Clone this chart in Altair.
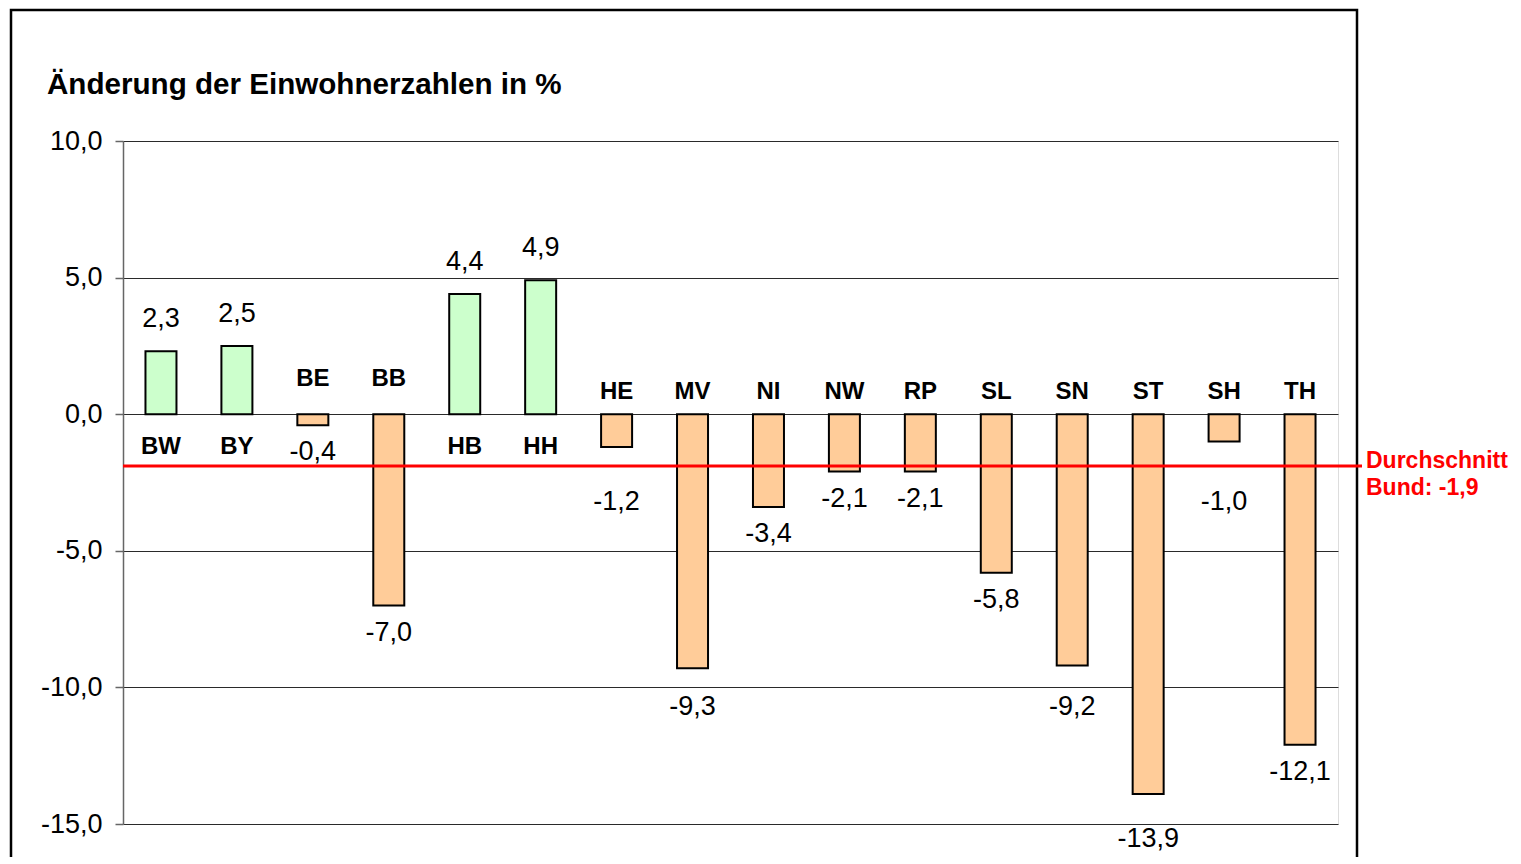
import altair as alt
import pandas as pd

# ---- data ----
laender = ["BW", "BY", "BE", "BB", "HB", "HH", "HE", "MV", "NI", "NW",
           "RP", "SL", "SN", "ST", "SH", "TH"]
werte = [2.3, 2.5, -0.4, -7.0, 4.4, 4.9, -1.2, -9.3, -3.4, -2.1,
         -2.1, -5.8, -9.2, -13.9, -1.0, -12.1]
durchschnitt = -1.9
y_ticks = [-15, -10, -5, 0, 5, 10]
y_min, y_max = -15, 10
titel = "Änderung der Einwohnerzahlen in %"
raised_names = ["BE", "BB"]  # names placed a bit higher in the original

FONT = "Liberation Sans"


def de(v):
    return f"{v:.1f}".replace(".", ",")


def value_label_y(v):
    if v >= 0:
        return v + 1.18
    lab = v - 1.0
    # keep clear of the average line
    if durchschnitt - 0.7 < lab < durchschnitt + 0.3:
        return durchschnitt - 1.3
    # keep clear of gridlines
    g = round(lab / 5) * 5
    if abs(lab - g) < 0.5:
        return g - (0.55 if g == y_min else 0.7)
    return lab


def name_y(land, v):
    if v >= 0:
        return -1.2
    return 1.3 if land in raised_names else 0.8


df = pd.DataFrame({"land": laender, "wert": werte})
df["sign"] = ["pos" if v >= 0 else "neg" for v in werte]
df["wert_txt"] = [de(v) for v in werte]
df["wert_y"] = [value_label_y(v) for v in werte]
df["name_y"] = [name_y(l, v) for l, v in zip(laender, werte)]

W, H = 1215, 683

xenc = alt.X("land:N", sort=laender,
             scale=alt.Scale(paddingInner=0, paddingOuter=0), axis=None)
yscale = alt.Scale(domain=[y_min, y_max], nice=False, zero=False)

base = alt.Chart(df)

bars = base.mark_bar(size=31, stroke="black", strokeWidth=2).encode(
    x=xenc,
    y=alt.Y("wert:Q", scale=yscale,
            axis=alt.Axis(values=y_ticks, title="", grid=True,
                          gridColor="#2a2a2a", gridWidth=1,
                          domainColor="#666666", domainWidth=1.5,
                          tickColor="#666666", tickSize=8, tickWidth=1.5,
                          labelFont=FONT, labelFontSize=27, labelColor="black",
                          labelPadding=13,
                          labelExpr="replace(replace(format(datum.value, '.1f'), '.', ','), '\u2212', '-')")),
    y2=alt.datum(0),
    color=alt.Color("sign:N", scale=alt.Scale(domain=["pos", "neg"],
                                              range=["#CCFFCC", "#FFCC99"]),
                    legend=None),
)

values_txt = base.mark_text(font=FONT, fontSize=27, color="black",
                            baseline="middle", align="center").encode(
    x=xenc,
    y=alt.Y("wert_y:Q", scale=yscale),
    text="wert_txt:N",
)

names_txt = base.mark_text(font=FONT, fontSize=24, fontWeight="bold",
                           color="black", baseline="middle",
                           align="center").encode(
    x=xenc,
    y=alt.Y("name_y:Q", scale=yscale),
    text="land:N",
)

avg_df = pd.DataFrame({"avg": [durchschnitt],
                       "txt": [f"Durchschnitt\nBund: {de(durchschnitt)}"]})

avg_rule = alt.Chart(avg_df).mark_rule(color="#FF0000", strokeWidth=3).encode(
    y=alt.Y("avg:Q", scale=yscale),
    x=alt.value(0),
    x2=alt.value(W + 24),
)

avg_txt = alt.Chart(avg_df).mark_text(
    font=FONT, fontSize=23, fontWeight="bold", color="#FF0000",
    align="left", baseline="top", lineBreak="\n", lineHeight=27, dy=-16,
).encode(
    y=alt.Y("avg:Q", scale=yscale),
    x=alt.value(W + 28),
    text="txt:N",
)

title_df = pd.DataFrame({"t": [titel]})
title_txt = alt.Chart(title_df).mark_text(
    font=FONT, fontSize=29.6, fontWeight="bold", color="black",
    align="left", baseline="alphabetic",
).encode(x=alt.value(-76), y=alt.value(-47), text="t:N")

frame = alt.Chart(pd.DataFrame({"f": [1]})).mark_rect(
    fill="transparent", stroke="black", strokeWidth=2.5,
).encode(x=alt.value(-112), x2=alt.value(1234),
         y=alt.value(-131), y2=alt.value(H + 80))

chart = alt.layer(frame, bars, avg_rule, values_txt, names_txt, avg_txt,
                  title_txt).properties(
    width=W, height=H,
    autosize=alt.AutoSizeParams(type="none"),
    padding={"left": 115, "top": 133, "right": 175, "bottom": 33},
).configure_view(stroke=None).configure(background="white")

chart.save("out.html", embed_options={"renderer": "svg", "actions": False})
